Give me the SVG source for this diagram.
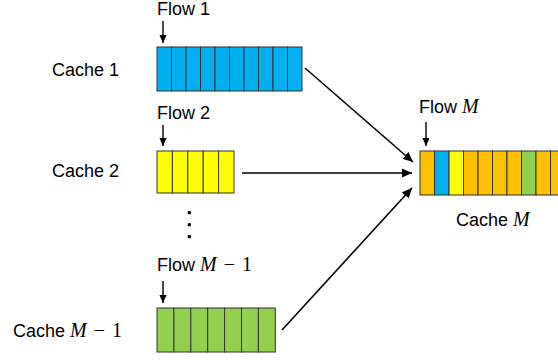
<svg xmlns="http://www.w3.org/2000/svg" width="558" height="360" viewBox="0 0 558 360">
<defs>
<marker id="ah" viewBox="0 0 10 10" refX="10" refY="5" markerWidth="10" markerHeight="10" markerUnits="userSpaceOnUse" orient="auto">
<path d="M0,0.5 L10,5 L0,9.5 z" fill="#000"/>
</marker>
<marker id="ahs" viewBox="0 0 10 10" refX="10" refY="5" markerWidth="8" markerHeight="8" markerUnits="userSpaceOnUse" orient="auto">
<path d="M0,0.5 L10,5 L0,9.5 z" fill="#000"/>
</marker>
</defs>
<style>
text{font-family:"Liberation Sans","Open Sans",sans-serif;font-size:18px;fill:#000}
.m{font-family:"Liberation Serif","DejaVu Serif",serif;font-style:italic;font-size:20px}
.n{font-family:"Liberation Serif","DejaVu Serif",serif;font-size:20px}
.cell{stroke:#333;stroke-width:1}
.b{fill:#00B0F0}.y{fill:#FFFF00}.g{fill:#92D050}.o{fill:#FFC000}
.con{stroke:#000;stroke-width:1.6;fill:none;marker-end:url(#ah)}
.flow{stroke:#000;stroke-width:1.4;fill:none;marker-end:url(#ahs)}
</style>
<rect width="558" height="360" fill="#fff"/>

<g id="cache1">
<text x="119" y="76" text-anchor="end">Cache 1</text>
<text x="157" y="15">Flow 1</text>
<line class="flow" x1="163" y1="21" x2="163" y2="43"/>
<g class="cell b">
<rect x="157" y="47" width="14.5" height="44"/><rect x="171.5" y="47" width="14.5" height="44"/><rect x="186" y="47" width="14.5" height="44"/><rect x="200.5" y="47" width="14.5" height="44"/><rect x="215" y="47" width="14.5" height="44"/><rect x="229.5" y="47" width="14.5" height="44"/><rect x="244" y="47" width="14.5" height="44"/><rect x="258.5" y="47" width="14.5" height="44"/><rect x="273" y="47" width="14.5" height="44"/><rect x="287.5" y="47" width="14.5" height="44"/>
</g>
</g>

<g id="cache2">
<text x="119" y="177" text-anchor="end">Cache 2</text>
<text x="157" y="119">Flow 2</text>
<line class="flow" x1="163" y1="125" x2="163" y2="146"/>
<g class="cell y">
<rect x="157" y="151" width="15.4" height="42"/><rect x="172.4" y="151" width="15.4" height="42"/><rect x="187.8" y="151" width="15.4" height="42"/><rect x="203.2" y="151" width="15.4" height="42"/><rect x="218.6" y="151" width="15.4" height="42"/>
</g>
</g>

<g id="dots">
<rect x="187.8" y="211.2" width="3" height="3"/>
<rect x="187.8" y="223.2" width="3" height="3"/>
<rect x="187.8" y="235.2" width="3" height="3"/>
</g>

<g id="cacheM1">
<text x="122" y="337" text-anchor="end">Cache <tspan class="m">M</tspan><tspan class="n" dx="7">−</tspan><tspan class="n" dx="7">1</tspan></text>
<text x="157" y="271">Flow <tspan class="m">M</tspan><tspan class="n" dx="7">−</tspan><tspan class="n" dx="7">1</tspan></text>
<line class="flow" x1="163" y1="281" x2="163" y2="303"/>
<g class="cell g">
<rect x="157" y="308" width="16.9" height="44"/><rect x="173.9" y="308" width="16.9" height="44"/><rect x="190.8" y="308" width="16.9" height="44"/><rect x="207.7" y="308" width="16.9" height="44"/><rect x="224.6" y="308" width="16.9" height="44"/><rect x="241.5" y="308" width="16.9" height="44"/><rect x="258.4" y="308" width="16.9" height="44"/>
</g>
</g>

<g id="cacheM">
<text x="419" y="113">Flow <tspan class="m">M</tspan></text>
<text x="456" y="226">Cache <tspan class="m">M</tspan></text>
<line class="flow" x1="426" y1="122" x2="426" y2="146"/>
<g class="cell">
<rect class="o" x="420" y="151" width="14.5" height="44"/><rect class="b" x="434.5" y="151" width="14.5" height="44"/><rect class="y" x="449" y="151" width="14.5" height="44"/><rect class="o" x="463.5" y="151" width="14.5" height="44"/><rect class="o" x="478" y="151" width="14.5" height="44"/><rect class="o" x="492.5" y="151" width="14.5" height="44"/><rect class="o" x="507" y="151" width="14.5" height="44"/><rect class="g" x="521.5" y="151" width="14.5" height="44"/><rect class="o" x="536" y="151" width="14.5" height="44"/><rect class="o" x="550.5" y="151" width="14.5" height="44"/>
</g>
</g>

<g id="connectors">
<line class="con" x1="305" y1="68" x2="413" y2="162"/>
<line class="con" x1="242" y1="173" x2="412" y2="173"/>
<line class="con" x1="282" y1="330" x2="412" y2="188"/>
</g>
</svg>
